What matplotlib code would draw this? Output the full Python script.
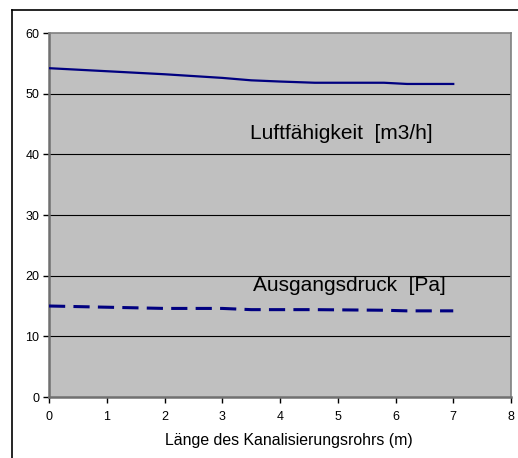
import matplotlib
matplotlib.use("Agg")
import matplotlib.pyplot as plt
from matplotlib.lines import Line2D

laenge = [0, 1, 2, 3, 3.5, 4, 4.6, 5.8, 6.2, 7]
luftfaehigkeit = [54.2, 53.7, 53.2, 52.6, 52.2, 52.0, 51.8, 51.8, 51.6, 51.6]
ausgangsdruck = [15.0, 14.8, 14.6, 14.6, 14.4, 14.4, 14.4, 14.3, 14.2, 14.2]
x_ticks = [0, 1, 2, 3, 4, 5, 6, 7, 8]
y_ticks = [0, 10, 20, 30, 40, 50, 60]
label_luft = "Luftfähigkeit  [m3/h]"
label_druck = "Ausgangsdruck  [Pa]"
x_label = "Länge des Kanalisierungsrohrs (m)"

plt.rcParams['font.family'] = ['Liberation Sans', 'DejaVu Sans']

fig = plt.figure(figsize=(5.18, 4.58), dpi=100)
fig.patch.set_facecolor('white')

# outer frame (left and top lines)
fig.add_artist(Line2D([12/518, 12/518], [0, 1 - 10/458], color='black', lw=1.2, transform=fig.transFigure))
fig.add_artist(Line2D([12/518, 1], [1 - 10/458, 1 - 10/458], color='black', lw=1.2, transform=fig.transFigure))

ax = fig.add_axes([49/518, 1 - 397/458, 462/518, 364/458])
ax.set_facecolor('#C0C0C0')
ax.set_xlim(0, 8)
ax.set_ylim(0, 60)
ax.set_xticks(x_ticks)
ax.set_yticks(y_ticks)
ax.set_axisbelow(True)
for yv in y_ticks[1:-1]:
    ax.axhline(yv, color='black', lw=0.8, zorder=1)

ax.plot(laenge, luftfaehigkeit, color='#000080', lw=1.6, zorder=3)
ax.plot(laenge, ausgangsdruck, color='#000080', lw=2.2, dashes=(5.3, 2.7), zorder=3)

ax.text(3.48, 43.5, label_luft, fontsize=15, va='center', ha='left', color='black')
ax.text(3.53, 18.4, label_druck, fontsize=15, va='center', ha='left', color='black')

for s in ['top', 'right']:
    ax.spines[s].set_color('#808080')
    ax.spines[s].set_linewidth(1.2)
ax.spines['left'].set_color('#707070')
ax.spines['left'].set_linewidth(1.8)
ax.spines['bottom'].set_color('#707070')
ax.spines['bottom'].set_linewidth(1.8)

ax.tick_params(axis='both', direction='out', length=4, width=1, color='black', labelsize=9, pad=3)
ax.tick_params(axis='x', pad=6)
ax.set_xlabel(x_label, fontsize=11.4, labelpad=7, x=0.519)

fig.savefig('out.png', dpi=100)
